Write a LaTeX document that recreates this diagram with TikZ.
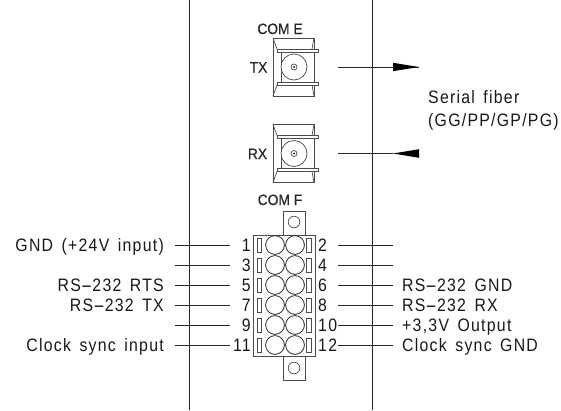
\documentclass[tikz,border=0pt]{standalone}
\usepackage{graphicx}
\usepackage{fontspec}
\setmainfont{Liberation Sans}
\newfontfamily\lblfont[LetterSpace=7,WordSpace=1.5,FakeStretch=0.88]{Liberation Sans}
\newfontfamily\hdfont[FakeBold=0.6,FakeStretch=0.92]{Liberation Sans}
\newcommand{\wdash}{\scalebox{2.2}[1]{-}}
\tikzset{
 x=1pt,y=-1pt,
 ln/.style={line width=0.8pt,black!85},
 thinln/.style={line width=0.7pt,black!70},
 lbl/.style={inner sep=0pt,font=\lblfont\fontsize{18}{18}\selectfont,text=black!90},
 lblL/.style={lbl,anchor=base east},
 lblR/.style={lbl,anchor=base west},
 pinL/.style={lbl,anchor=base east},
 pinR/.style={lbl,anchor=base west},
 hd/.style={inner sep=0pt,font=\hdfont\fontsize{15}{15}\selectfont,text=black!85,anchor=base},
}
\newcommand{\fiberport}[1]{%
 \begin{scope}[shift={(294,#1)}]
  \draw[thinln] (-21,-29) rectangle (20,29);
  \draw[thinln] (-13,-15.5) rectangle (20,15.5);
  \draw[thinln] (-21,-29) -- (-17,-18);
  \draw[thinln] (20,-29) -- (18,-18);
  \draw[thinln] (-21,29) -- (-17,18);
  \draw[thinln] (20,29) -- (18,18);
  \draw[thinln,fill=white] (-17,-18) rectangle (24,-15);
  \draw[thinln,fill=white] (-17,15) rectangle (24,18);
  \draw[thinln,fill=white] (0,0) circle (13);
  \draw[thinln] (0,0) circle (3);
  \fill[black] (0,0) circle (1);
 \end{scope}}
\begin{document}
\begin{tikzpicture}
\useasboundingbox (0,0) rectangle (561,410);
\fill[white] (0,0) rectangle (561,410);
% panel
\coordinate (pTL) at (189,0); \coordinate (pBL) at (189,410);
\coordinate (pTR) at (372,0); \coordinate (pBR) at (372,410);
\draw[ln] (pTL) -- (pBL);
\draw[ln] (pTR) -- (pBR);
% fibre ports
\fiberport{67}
\fiberport{153.5}
\node[hd] (come) at (280,34) {COM E};
\node[hd] (tx) at (258.5,72.5) {TX};
\node[hd] (rx) at (257.5,159) {RX};
% fibre arrows
\coordinate (txa) at (338,67); \coordinate (txb) at (419,67);
\coordinate (rxa) at (338,153.5); \coordinate (rxb) at (393,153.5);
\draw[ln] (txa) -- (txb);
\fill[black] (393,62.8) -- (419,67) -- (393,71.2) -- cycle;
\draw[ln] (rxa) -- (rxb);
\fill[black] (419,149.2) -- (393,153.5) -- (419,157.8) -- cycle;
\node[lblR] (s1) at (428,103) {Serial fiber};
\node[lblR] (s2) at (428,126) {(GG/PP/GP/PG)};
% COM F connector
\node[hd] (comf) at (280,205) {COM F};
\draw[thinln] (283,235) -- (283,211) -- (305,211) -- (305,235);
\draw[thinln] (283,356) -- (283,380) -- (305,380) -- (305,356);
\draw[thinln] (294,222) circle (5.8);
\draw[thinln] (294,368) circle (5.8);
\draw[thinln] (253.5,235) rectangle (315.5,356);
\foreach \y in {245,265,285,305,325,345}{
 \draw[ln] (275,\y) circle (9.4);
 \draw[ln] (295,\y) circle (9.4);
 \draw[thinln] (257,\y-7) rectangle (261,\y+7);
 \draw[thinln] (306.5,\y-7) rectangle (311,\y+7);
 \coordinate (wl\y) at (175,\y); \coordinate (wli\y) at (230,\y);
 \coordinate (wr\y) at (338,\y); \coordinate (wri\y) at (393,\y);
 \draw[ln] (wl\y) -- (wli\y);
 \draw[ln] (wr\y) -- (wri\y);
}
% pins
\foreach \n/\y in {1/245,3/265,5/285,7/305,9/325,11/345}{\node[pinL] (p\n) at (251,\y+6.5) {\n};}
\foreach \n/\y in {2/245,4/265,6/285,8/305,10/325,12/345}{\node[pinR] (p\n) at (318,\y+6.5) {\n};}
% labels
\node[lblL] (a1) at (164,251) {GND (+24V input)};
\node[lblL] (a5) at (164,291) {RS\wdash 232 RTS};
\node[lblL] (a7) at (164,311) {RS\wdash 232 TX};
\node[lblL] (a11) at (164,351) {Clock sync input};
\node[lblR] (b6) at (402,291) {RS\wdash 232 GND};
\node[lblR] (b8) at (402,311) {RS\wdash 232 RX};
\node[lblR] (b10) at (402,331) {+3,3V Output};
\node[lblR] (b12) at (402,351) {Clock sync GND};
\end{tikzpicture}
\end{document}
